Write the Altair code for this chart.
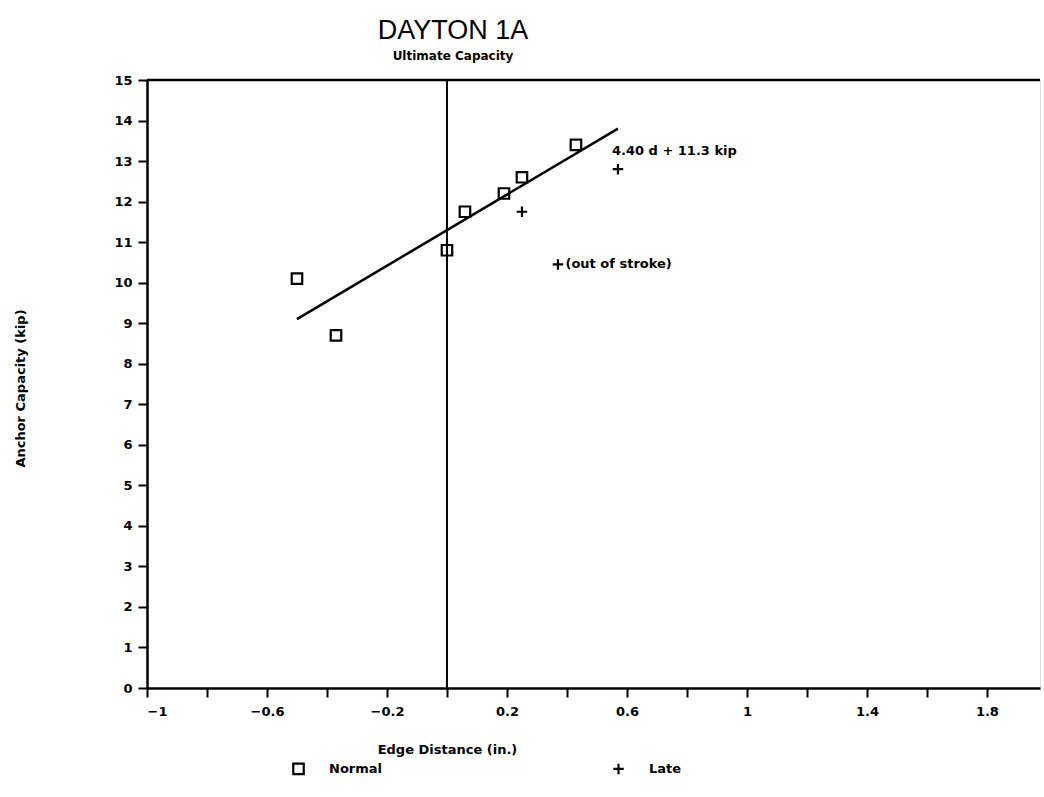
import altair as alt
import pandas as pd

# ---- data ----
normal_x = [-0.50, -0.37, 0.00, 0.06, 0.19, 0.25, 0.43]
normal_y = [10.1, 8.7, 10.8, 11.75, 12.2, 12.6, 13.4]
late_x = [0.25, 0.57, 0.37]
late_y = [11.75, 12.8, 10.45]

fit_x = [-0.50, 0.57]
fit_y = [9.1, 13.8]

x_ticks = [-1.0, -0.8, -0.6, -0.4, -0.2, 0.0, 0.2, 0.4, 0.6, 0.8, 1.0, 1.2, 1.4, 1.6, 1.8]
y_ticks = list(range(0, 16))

eq_text = ["4.40 d + 11.3 kip"]
eq_x = [0.55]
eq_y = [13.25]
note_text = ["(out of stroke)"]
note_x = [0.395]
note_y = [10.45]

FONT = "DejaVu Sans"
PLUS = "M-1,0L1,0M0,-1L0,1"

pts = pd.DataFrame({
    "x": normal_x + late_x,
    "y": normal_y + late_y,
    "type": ["Normal"] * len(normal_x) + ["Late"] * len(late_x),
})
fit = pd.DataFrame({"x": fit_x, "y": fit_y})
vline = pd.DataFrame({"x": [0.0]})
topline = pd.DataFrame({"y": [15.0]})
eq = pd.DataFrame({"x": eq_x, "y": eq_y, "t": eq_text})
note = pd.DataFrame({"x": note_x, "y": note_y, "t": note_text})

xscale = alt.Scale(domain=[-1, 1.977], nice=False, zero=False)
yscale = alt.Scale(domain=[0, 15], nice=False, zero=False)

xaxis = alt.Axis(
    values=x_ticks,
    labelExpr="abs(round(datum.value*10)) % 4 == 2 ? datum.label : ''",
    format="~g",
    title="Edge Distance (in.)",
    titleX=300, titleY=55, titleAnchor="middle",
    grid=False, tickSize=9, tickWidth=2, tickColor="black",
    domainColor="black", domainWidth=2.5,
    labelPadding=8, labelFontSize=13, labelFontWeight="bold", labelFont=FONT,
    labelColor="black",
    titleFontSize=13, titleFontWeight="bold", titleFont=FONT, titleColor="black",
)
yaxis = alt.Axis(
    values=y_ticks,
    title="Anchor Capacity (kip)",
    titleX=-120, titleY=308, titleAngle=-90, titleAnchor="middle",
    grid=False, tickSize=9, tickWidth=2, tickColor="black",
    domainColor="black", domainWidth=2.5,
    labelPadding=6, labelFontSize=13, labelFontWeight="bold", labelFont=FONT,
    labelColor="black",
    titleFontSize=13, titleFontWeight="bold", titleFont=FONT, titleColor="black",
)

base_x = alt.X("x:Q", scale=xscale, axis=xaxis)
base_y = alt.Y("y:Q", scale=yscale, axis=yaxis)

points = alt.Chart(pts).mark_point(filled=False, strokeWidth=2.2, color="black", size=110, opacity=1).encode(
    x=base_x,
    y=base_y,
    shape=alt.Shape(
        "type:N",
        scale=alt.Scale(domain=["Normal", "Late"], range=["square", PLUS]),
        legend=alt.Legend(
            title=None, orient="none", direction="horizontal",
            legendX=145, legendY=682,
            symbolStrokeColor="black", symbolStrokeWidth=2.2, symbolSize=110,
            symbolType="square",
            labelFontSize=13, labelFontWeight="bold", labelFont=FONT, labelColor="black",
            labelOffset=24, columnPadding=226,
        ),
    ),
)

line = alt.Chart(fit).mark_line(color="black", strokeWidth=2.5).encode(x=base_x, y=base_y)
vrule = alt.Chart(vline).mark_rule(color="black", strokeWidth=2).encode(x=base_x)
trule = alt.Chart(topline).mark_rule(color="black", strokeWidth=2.5).encode(y=base_y)

eq_label = alt.Chart(eq).mark_text(
    align="left", baseline="middle", fontSize=13, fontWeight="bold", font=FONT, color="black"
).encode(x=base_x, y=base_y, text="t:N")
note_label = alt.Chart(note).mark_text(
    align="left", baseline="middle", fontSize=13, fontWeight="bold", font=FONT, color="black"
).encode(x=base_x, y=base_y, text="t:N")

chart = alt.layer(vrule, trule, line, points, eq_label, note_label).properties(
    width=893,
    height=608,
    autosize=alt.AutoSizeParams(type="none"),
    padding={"left": 147, "top": 80, "right": 4, "bottom": 109},
    title=alt.TitleParams(
        text="DAYTON 1A",
        subtitle="Ultimate Capacity",
        anchor="start", align="center", dx=439,
        font="Liberation Sans", fontSize=27, fontWeight="normal", color="black",
        subtitleFont=FONT, subtitleFontSize=12, subtitleFontWeight="bold", subtitleColor="black",
        subtitlePadding=6, offset=11,
    ),
).configure_view(stroke=None).configure(background="white")

chart.save("out.html", embed_options={"renderer": "svg", "actions": False})
